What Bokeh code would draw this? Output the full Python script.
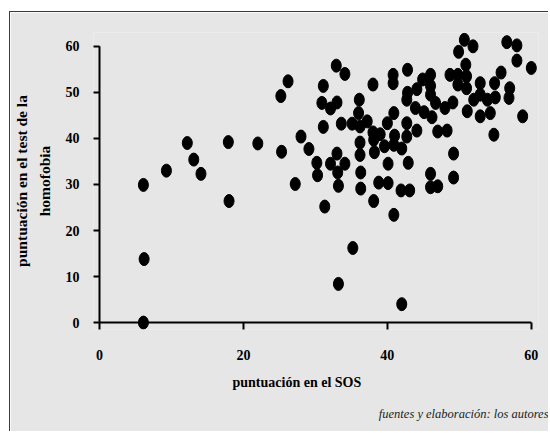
from bokeh.plotting import figure
from bokeh.models import Range1d, FixedTicker, ColumnDataSource, Title
from bokeh.embed import file_html
from bokeh.resources import INLINE

# --- data ---
sos = [6.1, 6.2, 6.1, 9.3, 12.2, 13.1, 14.1, 17.9, 18.0, 22.0,
       25.2, 26.2, 25.3, 27.2, 28.0, 29.1, 30.2, 30.3, 31.1, 30.9,
       31.1, 31.3, 32.1, 32.1, 32.9, 33.0, 33.0, 33.1, 33.2, 33.2,
       34.1, 33.6, 34.1, 35.1, 35.2, 36.1, 36.0, 36.2, 36.2, 36.2,
       36.3, 36.3, 37.2, 38.0, 38.0, 38.1, 38.2, 38.1, 39.0, 38.8,
       39.6, 40.0, 40.1, 40.1, 40.8, 40.8, 40.9, 41.0, 40.9, 40.9,
       42.0, 41.9, 42.0, 42.8, 42.8, 42.7, 42.7, 42.7, 42.9, 43.1,
       43.9, 44.1, 44.1, 44.9, 45.1, 46.0, 46.0, 46.0, 46.2, 46.0,
       46.0, 46.7, 47.0, 47.0, 48.0, 48.3, 48.7, 49.1, 49.2, 49.2,
       49.8, 49.9, 49.8, 50.7, 50.9, 51.0, 51.0, 51.1, 51.9, 52.0,
       52.9, 52.9, 52.9, 53.9, 54.3, 54.9, 55.0, 54.8, 55.8, 56.6,
       57.0, 56.9, 58.0, 58.0, 58.8, 60.0]
homofobia = [29.9, 13.8, 0.0, 33.0, 39.0, 35.4, 32.3, 39.2, 26.4, 38.9,
             49.2, 52.4, 37.1, 30.1, 40.4, 37.7, 34.7, 32.0, 51.4, 47.7,
             42.5, 25.2, 46.5, 34.5, 55.8, 47.8, 36.7, 32.6, 29.7, 8.4,
             54.0, 43.2, 34.5, 43.2, 16.2, 48.4, 45.5, 42.6, 39.1, 36.4,
             32.6, 29.1, 43.7, 51.7, 41.3, 39.7, 37.0, 26.4, 40.9, 30.4,
             38.3, 43.3, 34.5, 30.3, 53.8, 52.0, 45.5, 40.6, 38.6, 23.4,
             37.8, 28.7, 4.0, 54.9, 49.9, 48.4, 43.3, 40.4, 34.7, 28.7,
             46.6, 50.7, 41.7, 52.8, 45.7, 53.8, 51.4, 49.5, 44.6, 32.3,
             29.4, 47.7, 41.5, 29.6, 46.6, 41.7, 53.8, 47.8, 36.7, 31.5,
             53.8, 58.8, 51.7, 61.4, 56.0, 53.5, 50.9, 45.9, 60.0, 48.4,
             52.0, 49.5, 44.8, 48.4, 45.5, 52.0, 48.9, 40.8, 54.3, 60.9,
             50.9, 48.8, 60.2, 56.9, 44.8, 55.3]
assert len(sos) == len(homofobia)

x_ticks = [0, 20, 40, 60]
y_ticks = [0, 10, 20, 30, 40, 50, 60]

x_title = "puntuación en el SOS"
y_title = "puntuación en el test de la\nhomofobia"
footnote = "fuentes y elaboración: los autores"

FONT = "Liberation Serif"
BG = "#e6e6e6"

src = ColumnDataSource(dict(x=sos, y=homofobia))

p = figure(width=539, height=420,
           x_range=Range1d(-0.833, 61.0), y_range=Range1d(-1.5, 63),
           output_backend="svg", toolbar_location=None,
           min_border_left=83, min_border_right=11,
           min_border_top=20, min_border_bottom=103)
p.styles = {"border-left": "1.5px solid #3a3a3a",
            "border-top": "1.5px solid #3a3a3a",
            "margin-left": "9px", "margin-top": "11px"}

p.border_fill_color = BG
p.background_fill_color = BG
p.outline_line_color = None
p.grid.visible = False

# axis lines at the data origin, spanning the tick range
p.segment(x0=[x_ticks[0]], y0=[y_ticks[0]], x1=[x_ticks[-1]], y1=[y_ticks[0]],
          line_color="black", line_width=2)
p.segment(x0=[x_ticks[0]], y0=[y_ticks[0]], x1=[x_ticks[0]], y1=[y_ticks[-1]],
          line_color="black", line_width=2)

p.ellipse(x="x", y="y", width=10, height=13,
          width_units="screen", height_units="screen",
          source=src, fill_color="black", line_color="black")

for ax in (p.xaxis[0], p.yaxis[0]):
    ax.axis_line_color = None
    ax.major_tick_line_width = 2
    ax.major_tick_line_color = "black"
    ax.minor_tick_line_color = None
    ax.major_tick_out = 0
    ax.major_label_text_font = FONT
    ax.major_label_text_font_style = "bold"
    ax.major_label_text_font_size = "14px"
    ax.major_label_text_color = "black"

p.xaxis[0].ticker = FixedTicker(ticks=x_ticks)
p.xaxis[0].major_tick_in = 7
p.xaxis[0].major_label_standoff = 20

p.yaxis[0].ticker = FixedTicker(ticks=y_ticks)
p.yaxis[0].major_tick_in = 6
p.yaxis[0].major_label_standoff = 14
p.yaxis[0].axis_label = y_title
p.yaxis[0].axis_label_text_font = FONT
p.yaxis[0].axis_label_text_font_style = "bold"
p.yaxis[0].axis_label_text_font_size = "15.5px"
p.yaxis[0].axis_label_text_color = "black"
p.yaxis[0].axis_label_standoff = 10
p.yaxis[0].axis_label_text_line_height = 1.3

p.add_layout(Title(text=x_title, align="left", offset=139,
                   text_font=FONT, text_font_style="bold",
                   text_font_size="14px", text_color="black",
                   standoff=20), "below")
p.add_layout(Title(text=footnote, align="right", offset=-10,
                   text_font=FONT, text_font_style="italic",
                   text_font_size="12.5px", text_color="#222222",
                   standoff=10), "below")

open("out.html", "w").write(file_html(p, INLINE))
